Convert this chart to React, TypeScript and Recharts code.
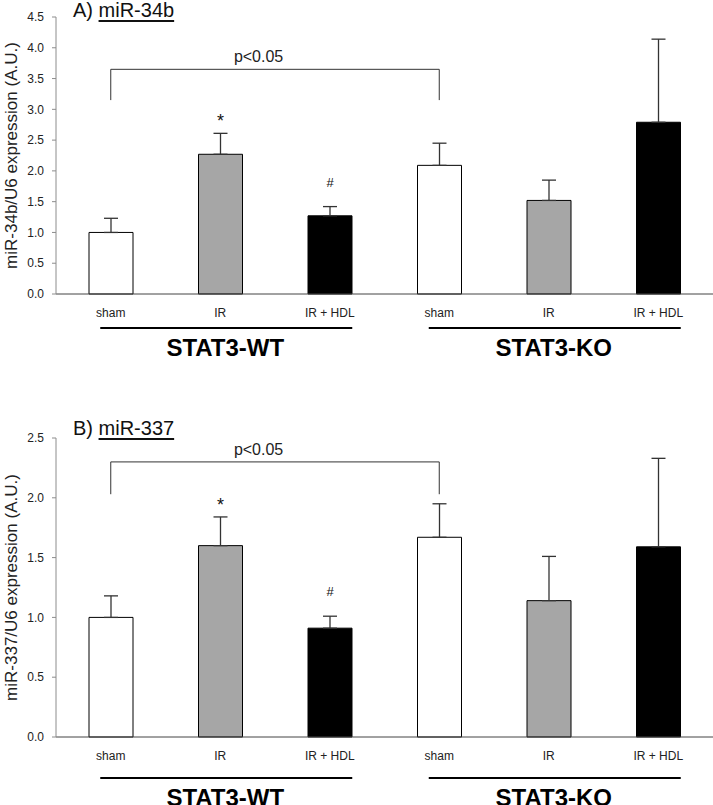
import React from "react";
import { BarChart, Bar, XAxis, YAxis, ErrorBar, Cell, LabelList, ReferenceLine } from "recharts";

const categories = ["WT-sham", "WT-IR", "WT-IRHDL", "KO-sham", "KO-IR", "KO-IRHDL"];
const tickLabels = ["sham", "IR", "IR + HDL", "sham", "IR", "IR + HDL"];
const groupLabels = ["STAT3-WT", "STAT3-KO"];
const barFills = ["#ffffff", "#a6a6a6", "#000000", "#ffffff", "#a6a6a6", "#000000"];

// panel A
const mir34bMean = [1.0, 2.27, 1.27, 2.09, 1.52, 2.79];
const mir34bSem = [0.23, 0.34, 0.15, 0.36, 0.33, 1.35];
const mir34bMarks = ["", "*", "#", "", "", ""];
const mir34bTicks = [0, 0.5, 1, 1.5, 2, 2.5, 3, 3.5, 4, 4.5];
const mir34bBracket = [3.65, 3.15];

// panel B
const mir337Mean = [1.0, 1.6, 0.91, 1.67, 1.14, 1.59];
const mir337Sem = [0.18, 0.24, 0.1, 0.28, 0.37, 0.74];
const mir337Marks = ["", "*", "#", "", "", ""];
const mir337Ticks = [0, 0.5, 1, 1.5, 2, 2.5];
const mir337Bracket = [2.3, 2.03];

const FONT = '"Liberation Sans", Arial, sans-serif';

type PanelProps = {
  yLabel: string;
  means: number[];
  sems: number[];
  marks: string[];
  ticks: number[];
  bracket: number[];
  height: number;
  plotTop: number;
  axisH: number;
  lineDy: number;
  groupDy: number;
};

function CatTick(props: any) {
  const { x, y, index, lineDy, groupDy } = props;
  const mid = index % 3 === 1;
  return (
    <g>
      <text x={x} y={y + 23} textAnchor="middle" fontSize={12} fill="#222">{tickLabels[index]}</text>
      {mid && (
        <>
          <line x1={x - 120} x2={x + 132} y1={y + lineDy} y2={y + lineDy} stroke="#000" strokeWidth={2} />
          <text x={x + 5} y={y + groupDy} textAnchor="middle" fontSize={24} fontWeight="bold" fill="#000">
            {groupLabels[Math.floor(index / 3)]}
          </text>
        </>
      )}
    </g>
  );
}

function Panel(p: PanelProps) {
  const rows = categories.map((c, i) => ({
    key: c,
    mean: p.means[i],
    err: [0, p.sems[i]],
    mark: p.marks[i],
  }));
  const max = p.ticks[p.ticks.length - 1];

  const markContent = (props: any) => {
    const v = props.value;
    if (!v) return null;
    const vb = props.viewBox ?? props;
    const i = typeof props.index === "number" ? props.index : p.marks.indexOf(v);
    const pxPer = vb.height / p.means[i];
    const errTop = vb.y - p.sems[i] * pxPer;
    const star = v === "*";
    return (
      <text x={vb.x + vb.width / 2} y={errTop - (star ? 6 : 20)} textAnchor="middle"
        fontSize={star ? 18 : 13} fill="#111">{v}</text>
    );
  };

  const yLabel = (props: any) => {
    const vb = props.viewBox ?? {};
    const cy = (vb.y ?? p.plotTop) + (vb.height ?? 0) / 2;
    return (
      <text x={11} y={cy} transform={`rotate(-90 11 ${cy})`} textAnchor="middle" dominantBaseline="central"
        fontSize={17} fill="#222">{p.yLabel}</text>
    );
  };

  const pLabel = (props: any) => {
    const vb = props.viewBox ?? {};
    return (
      <text x={vb.x + vb.width * 0.45} y={vb.y - 7} textAnchor="middle" fontSize={16} fill="#222">p&lt;0.05</text>
    );
  };

  const [top, leg] = p.bracket;

  return (
    <BarChart width={713} height={p.height} data={rows} margin={{ top: p.plotTop, right: 0, bottom: 0, left: 0 }}>
      <XAxis dataKey="key" height={p.axisH} tickLine={false} tickSize={0} tickMargin={0} interval={0}
        axisLine={{ stroke: "#444" }}
        tick={(t: any) => <CatTick {...t} lineDy={p.lineDy} groupDy={p.groupDy} />} />
      <YAxis domain={[0, max]} ticks={p.ticks} interval={0} width={56} tickSize={4} tickMargin={8}
        tickFormatter={(v: number) => v.toFixed(1)}
        axisLine={{ stroke: "#8c8c8c" }} tickLine={{ stroke: "#8c8c8c" }}
        tick={{ fontSize: 12, fill: "#222" }} label={yLabel} />
      <ReferenceLine segment={[{ x: categories[0], y: top }, { x: categories[3], y: top }]} stroke="#333"
        label={pLabel} ifOverflow="visible" />
      <ReferenceLine segment={[{ x: categories[0], y: top }, { x: categories[0], y: leg }]} stroke="#333"
        ifOverflow="visible" />
      <ReferenceLine segment={[{ x: categories[3], y: top }, { x: categories[3], y: leg }]} stroke="#333"
        ifOverflow="visible" />
      <Bar dataKey="mean" barSize={44} stroke="#000" strokeWidth={1} isAnimationActive={false}>
        {barFills.map((f, i) => <Cell key={i} fill={f} />)}
        <ErrorBar dataKey="err" width={7} stroke="#333" strokeWidth={1.3} direction="y" isAnimationActive={false} />
        <LabelList dataKey="mark" content={markContent} />
      </Bar>
    </BarChart>
  );
}

export default function App() {
  const title: React.CSSProperties = { position: "absolute", left: 73, fontSize: 20, lineHeight: "20px", color: "#111" };
  const ul: React.CSSProperties = { textDecoration: "underline", textDecorationThickness: 2, textUnderlineOffset: 3 };
  return (
    <div style={{ position: "absolute", left: 0, top: 0, width: 713, height: 805, background: "#fff", fontFamily: FONT, overflow: "hidden" }}>
      <div style={{ position: "absolute", left: 0, top: 0 }}>
        <Panel yLabel="miR-34b/U6 expression (A.U.)" means={mir34bMean} sems={mir34bSem} marks={mir34bMarks}
          ticks={mir34bTicks} bracket={mir34bBracket} height={400} plotTop={17} axisH={106} lineDy={34} groupDy={62} />
      </div>
      <div style={{ position: "absolute", left: 0, top: 400 }}>
        <Panel yLabel="miR-337/U6 expression (A.U.)" means={mir337Mean} sems={mir337Sem} marks={mir337Marks}
          ticks={mir337Ticks} bracket={mir337Bracket} height={405} plotTop={38} axisH={68} lineDy={41} groupDy={69} />
      </div>
      <div style={{ ...title, top: 0 }}>A)&nbsp;<span style={ul}>miR-34b</span></div>
      <div style={{ ...title, top: 418 }}>B)&nbsp;<span style={ul}>miR-337</span></div>
    </div>
  );
}
